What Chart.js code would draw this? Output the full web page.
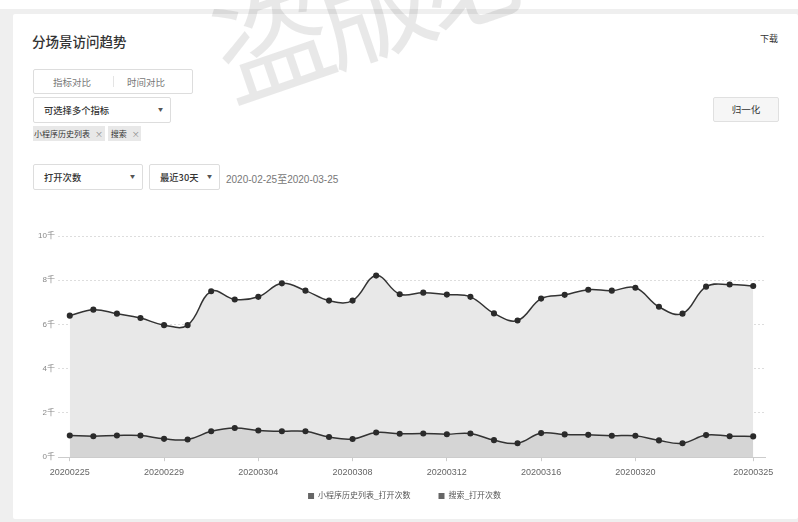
<!DOCTYPE html>
<html>
<head>
<meta charset="utf-8">
<script src="https://cdn.jsdelivr.net/npm/chart.js@4.4.1/dist/chart.umd.min.js"></script>
<style>
  body { margin: 0; width: 798px; height: 522px; position: relative; overflow: hidden; background: #fff;
    font-family: "Noto Sans CJK SC", "Liberation Sans", sans-serif; color: #333; }
  .bg { position: absolute; left: 0; top: 9px; width: 798px; height: 513px; background: #efefef; }
  .card { position: absolute; left: 13px; top: 14px; width: 785px; height: 505px; background: #fff; border-radius: 2px; }
  .abs { position: absolute; }
  .title { left: 32px; top: 31px; font-size: 13.5px; font-weight: 500; }
  .download { left: 760px; top: 32px; font-size: 9px; }
  .seg { left: 33px; top: 69px; width: 158px; height: 23px; border: 1px solid #ddd; border-radius: 2px; font-size: 9.5px; color: #777; }
  .seg span { position: absolute; top: 5px; }
  .seg i { position: absolute; left: 79px; top: 6px; width: 1px; height: 11px; background: #e4e4e4; }
  .sel { height: 24px; border: 1px solid #ddd; border-radius: 2px; font-size: 9.3px; font-weight: 500; }
  .sel span { position: absolute; left: 10px; top: 5px; }
  .sel b { position: absolute; top: 7px; font-size: 5px; color: #555; font-weight: normal; }
  .tag { top: 126px; height: 15px; background: #e8e8e8; font-size: 8px; line-height: 15px; padding-left: 1px; }
  .tag em { font-style: normal; color: #888; margin-left: 5px; }
  .btn { left: 713px; top: 97px; width: 64px; height: 23px; background: #f6f6f6; border: 1px solid #e0e0e0; border-radius: 2px; font-size: 9.5px; text-align: center; line-height: 23px; }
  .date { left: 226px; top: 171px; font-size: 10px; color: #777; font-family: "Liberation Sans", "Noto Sans CJK SC", sans-serif; }
  #wrap { position: absolute; left: 20px; top: 222px; width: 770px; height: 312px; }
  .wm { left: 188px; top: -26px; font-size: 116px; color: rgba(0,0,0,0.09); transform: rotate(-19deg); transform-origin: 0 0; white-space: nowrap; pointer-events: none; letter-spacing: -8px; }
</style>
</head>
<body>
<div class="bg"></div>
<div class="card"></div>
<div class="abs title">分场景访问趋势</div>
<div class="abs download">下载</div>
<div class="abs seg"><span style="left:19px">指标对比</span><i></i><span style="left:93px">时间对比</span></div>
<div class="abs sel" style="left:33px;top:97px;width:136px"><span>可选择多个指标</span><b style="left:124px">▼</b></div>
<div class="abs tag" style="left:33px;width:71px">小程序历史列表<em>×</em></div>
<div class="abs tag" style="left:108px;width:32px">&nbsp;搜索<em>×</em></div>
<div class="abs btn">归一化</div>
<div class="abs sel" style="left:33px;top:164px;width:108px"><span>打开次数</span><b style="left:96px">▼</b></div>
<div class="abs sel" style="left:149px;top:164px;width:69px"><span>最近30天</span><b style="left:57px">▼</b></div>
<div class="abs date">2020-02-25至2020-03-25</div>
<div id="wrap"><canvas id="myChart"></canvas></div>
<div class="abs wm">盗版必</div>
<script>
'use strict';

let dates = ['20200225', '20200226', '20200227', '20200228', '20200229', '20200301', '20200302', '20200303',
  '20200304', '20200305', '20200306', '20200307', '20200308', '20200309', '20200310', '20200311',
  '20200312', '20200313', '20200314', '20200315', '20200316', '20200317', '20200318', '20200319',
  '20200320', '20200321', '20200322', '20200323', '20200324', '20200325'];

let historyOpens = [6400, 6670, 6490, 6290, 5970, 5970, 7500, 7130, 7250, 7860, 7530, 7080, 7080, 8210, 7370,
  7440, 7350, 7250, 6500, 6180, 7170, 7340, 7570, 7530, 7660, 6800, 6490, 7710, 7810, 7740];

let searchOpens = [980, 950, 980, 980, 830, 800, 1170, 1320, 1210, 1170, 1170, 910, 820, 1120, 1060,
  1070, 1040, 1070, 770, 630, 1090, 1030, 1010, 970, 970, 760, 630, 1000, 950, 940];

let seriesNames = ['小程序历史列表_打开次数', '搜索_打开次数'];
let yTicks = [0, 2000, 4000, 6000, 8000, 10000];
let shownLabels = [0, 4, 8, 12, 16, 20, 24, 29];

Chart.defaults.font.family = '"Liberation Sans", "Noto Sans CJK SC", sans-serif';
Chart.defaults.font.size = 9;

// pull the legend up closer to the axis labels and centre it like the original
let legendNudge = {
  id: 'legendNudge',
  afterLayout: function (chart) {
    let lg = chart.legend;
    lg.top -= 20;
    lg.bottom -= 20;
    lg.left += 12;
    lg.right += 12;
  }
};

let chartStuff = {
  type: 'line',
  data: {
    labels: dates,
    datasets: [{
      label: seriesNames[0],
      data: historyOpens,
      borderColor: '#333',
      borderWidth: 1.5,
      backgroundColor: '#e8e8e8',
      pointBackgroundColor: '#2b2b2b',
      pointBorderColor: '#2b2b2b',
      pointRadius: 2.3,
      fill: 'origin',
      tension: 0.4,
      order: 1
    },
    {
      label: seriesNames[1],
      data: searchOpens,
      borderColor: '#333',
      borderWidth: 1.5,
      backgroundColor: '#d5d5d5',
      pointBackgroundColor: '#2b2b2b',
      pointBorderColor: '#2b2b2b',
      pointRadius: 2.3,
      fill: 'origin',
      tension: 0.4,
      order: 0
    }]
  },
  options: {
    responsive: true,
    maintainAspectRatio: false,
    animation: false,
    layout: { padding: { top: 14, right: 25, left: 0, bottom: 4 } },
    plugins: {
      tooltip: { enabled: false },
      legend: {
        position: 'bottom',
        labels: {
          boxWidth: 6,
          boxHeight: 6,
          color: '#555',
          padding: 28,
          font: { size: 8 },
          sort: (a, b) => a.datasetIndex - b.datasetIndex,
          generateLabels: function (chart) {
            let items = Chart.defaults.plugins.legend.labels.generateLabels(chart);
            items.forEach(function (it) {
              it.fillStyle = '#666';
              it.strokeStyle = '#666';
              it.lineWidth = 0;
            });
            return items;
          }
        }
      }
    },
    scales: {
      x: {
        offset: true,
        grid: {
          offset: false,
          drawOnChartArea: false,
          drawTicks: true,
          tickLength: 4,
          color: '#ccc'
        },
        border: { display: true, color: '#ccc' },
        ticks: {
          autoSkip: false,
          maxRotation: 0,
          color: '#666',
          padding: 6,
          callback: function (value, index) {
            return shownLabels.includes(index) ? dates[index] : null;
          }
        }
      },
      y: {
        min: 0,
        max: 10000,
        afterFit: function (scale) { scale.width = 38; },
        afterBuildTicks: function (scale) {
          scale.ticks = yTicks.map(function (v) { return { value: v }; });
        },
        border: { display: false, dash: [2, 2] },
        grid: {
          color: '#ddd',
          drawTicks: false
        },
        ticks: {
          color: '#888',
          padding: 3,
          font: { size: 8 },
          callback: function (value) { return (value / 1000) + '千'; }
        }
      }
    }
  },
  plugins: [legendNudge]
};

const ctx = document.getElementById('myChart').getContext('2d');
new Chart(ctx, chartStuff);
</script>
</body>
</html>
